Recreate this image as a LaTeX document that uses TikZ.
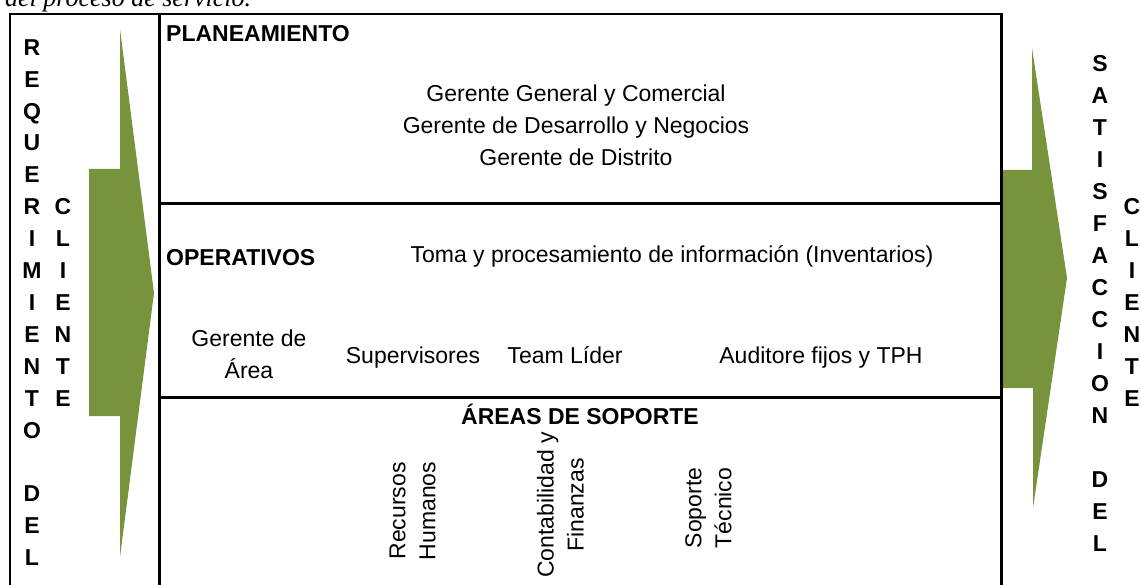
\documentclass[tikz,border=0pt]{standalone}
\usepackage{fontspec}
\setmainfont{Liberation Sans}
\newfontfamily\timesfont{Liberation Serif}
\definecolor{arrowgreen}{RGB}{119,147,60}
\begin{document}
\begin{tikzpicture}[x=1pt,y=-1pt,
  txt/.style={inner sep=0pt, font=\fontsize{23}{32}\selectfont},
  rottxt/.style={inner sep=0pt, align=center, rotate=90, font=\fontsize{23}{30}\selectfont},
  oneline/.style={txt, text height=16.5pt, text depth=0pt},
  boldcaps/.style={inner sep=0pt, text height=16.5pt, text depth=0pt, font=\fontsize{23}{32}\selectfont\bfseries},
  frame/.style={line width=3pt, black},
  thinframe/.style={line width=2pt, black},
  bigarrow/.style={fill=arrowgreen, draw=none}]
\useasboundingbox (0,0) rectangle (1141,585);
\clip (0,0) rectangle (1141,585);

% cut caption at the top
\node[anchor=base west, inner sep=0pt, font=\timesfont\itshape\fontsize{26}{30}\selectfont] (caption) at (5,7) {del proceso de servicio.};

% green arrows
\fill[bigarrow] (89,169) -- (120,169) -- (120,29) -- (154,293) -- (120,557) -- (120,416) -- (89,416) -- cycle;
\fill[bigarrow] (1002,170) -- (1032,170) -- (1032,48) -- (1067,278) -- (1033,508) -- (1033,388) -- (1002,388) -- cycle;

% frames
\draw[thinframe] (10,590) -- (10,14) -- (1001.5,14);
\draw[frame] (159,14) -- (159,590);
\draw[frame] (1001.5,12.8) -- (1001.5,590);
\draw[frame] (159,204) -- (1001.5,204);
\draw[frame] (159,397) -- (1001.5,397);

% vertical letters
\foreach \ch [count=\i] in {R,E,Q,U,E,R,I,M,I,E,N,T,O,{},D,E,L}
  \node[boldcaps] (req\i) at (32,{47+(\i-1)*31.9}) {\ch};
\foreach \ch [count=\i] in {C,L,I,E,N,T,E}
  \node[boldcaps] (cli\i) at (63,{206+(\i-1)*32}) {\ch};
\foreach \ch [count=\i] in {S,A,T,I,S,F,A,C,C,I,O,N,{},D,E,L}
  \node[boldcaps] (sat\i) at (1100,{63+(\i-1)*32}) {\ch};
\foreach \ch [count=\i] in {C,L,I,E,N,T,E}
  \node[boldcaps] (clr\i) at (1132,{206+(\i-1)*32}) {\ch};

% planeamiento
\node[boldcaps, anchor=west] (plan) at (166,33) {PLANEAMIENTO};
\node[txt, align=center] (ger) at (576,125) {Gerente General y Comercial\\Gerente de Desarrollo y Negocios\\Gerente de Distrito};

% operativos
\node[boldcaps, anchor=west] (oper) at (166,257) {OPERATIVOS};
\node[oneline] (toma) at (672,254) {Toma y procesamiento de información (Inventarios)};
\node[txt, align=center] (garea) at (249,354) {Gerente de\\Área};
\node[oneline] (sup) at (413,355) {Supervisores};
\node[oneline] (team) at (565,355) {Team Líder};
\node[oneline] (aud) at (821,355) {Auditore fijos y TPH};

% areas de soporte
\node[boldcaps] (areas) at (580,416) {ÁREAS DE SOPORTE};
\node[rottxt] (rrhh) at (412.5,511) {Recursos\\Humanos};
\node[rottxt] (conta) at (560.5,505) {Contabilidad y\\Finanzas};
\node[rottxt] (tec) at (708.5,508) {Soporte\\Técnico};
\end{tikzpicture}
\end{document}
